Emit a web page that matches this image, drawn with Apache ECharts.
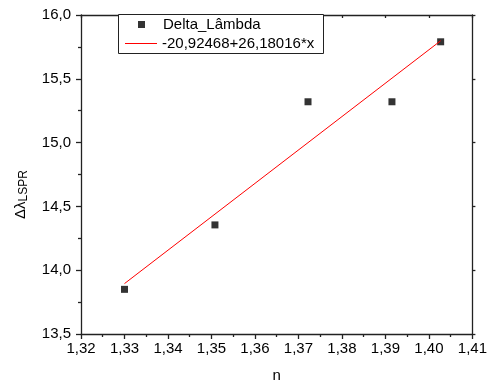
<!DOCTYPE html>
<html>
<head>
<meta charset="utf-8">
<style>html,body{margin:0;padding:0;background:#fff}#c{width:490px;height:388px}</style>
<script src="https://cdn.jsdelivr.net/npm/echarts@6/dist/echarts.min.js"></script>
</head>
<body>
<div id="c"></div>
<script>
var nValues = [1.3300, 1.3508, 1.3722, 1.3915, 1.4027];
var deltaLambda = [13.85, 14.355, 15.32, 15.32, 15.79];
var fitX = [1.3300, 1.4027];
var fitY = [13.895, 15.798];
var xTicks = {min: 1.32, max: 1.41, step: 0.01};
var yTicks = {min: 13.5, max: 16.0, step: 0.5};
var seriesNames = ['Delta_Lâmbda', '-20,92468+26,18016*x'];

var FONT = 'Liberation Sans, Arial, sans-serif';
var chart = echarts.init(document.getElementById('c'));
var axisLine = {show: true, lineStyle: {color: '#222', width: 1.3}};
function fmtX(v){ return v.toFixed(2).replace('.', ','); }
function fmtY(v){ return v.toFixed(1).replace('.', ','); }

chart.setOption({
  backgroundColor: '#fff',
  animation: false,
  grid: {left: 78, right: 17, top: 15, bottom: 54, containLabel: false},
  graphic: [{
    type: 'rect', left: 118, top: 14, z: 10,
    shape: {width: 205, height: 39},
    style: {fill: '#fff', stroke: '#222', lineWidth: 1}
  }],
  legend: [{
    data: [{name: seriesNames[0], icon: 'rect'}],
    left: 138, top: 17, padding: 0, itemWidth: 7, itemHeight: 7, z: 11,
    formatter: '{a|{name}}',
    textStyle: {color: '#000', fontFamily: FONT, fontSize: 15,
      rich: {a: {fontFamily: FONT, fontSize: 15, color: '#000', padding: [0, 0, 0, 13]}}},
    selectedMode: false
  }, {
    data: [{name: seriesNames[1], icon: 'rect'}],
    left: 125, top: 36, padding: 0, itemWidth: 32, itemHeight: 1, z: 11,
    textStyle: {color: '#000', fontFamily: FONT, fontSize: 15},
    selectedMode: false
  }],
  xAxis: [{
    type: 'value', position: 'bottom',
    min: xTicks.min, max: xTicks.max, interval: xTicks.step,
    name: 'n', nameLocation: 'middle', nameGap: 34,
    nameTextStyle: {color: '#000', fontFamily: FONT, fontSize: 15},
    axisLine: axisLine,
    axisTick: {show: true, inside: false, length: 5, lineStyle: {color: '#222', width: 1.3}},
    minorTick: {show: true, splitNumber: 2, length: 3, lineStyle: {color: '#222', width: 1.3}},
    axisLabel: {color: '#000', fontFamily: FONT, fontSize: 15, margin: 7, formatter: fmtX},
    splitLine: {show: false}
  }, {
    type: 'value', position: 'top',
    min: xTicks.min, max: xTicks.max, interval: xTicks.step,
    axisLine: axisLine,
    axisTick: {show: true, inside: true, length: 3, lineStyle: {color: '#222', width: 1.3}},
    axisLabel: {show: false}, splitLine: {show: false}
  }],
  yAxis: [{
    type: 'value', position: 'left',
    min: yTicks.min, max: yTicks.max, interval: yTicks.step,
    name: '{a|Δλ}{b|LSPR}', nameLocation: 'middle', nameGap: 51,
    nameTextStyle: {color: '#000', fontFamily: FONT,
      rich: {a: {fontSize: 15, fontFamily: FONT, color: '#000', lineHeight: 18},
             b: {fontSize: 12, fontFamily: FONT, color: '#000', lineHeight: 12, verticalAlign: 'bottom', padding: [10, 40, 0, 0]}}},
    axisLine: axisLine,
    axisTick: {show: true, inside: false, length: 5, lineStyle: {color: '#222', width: 1.3}},
    minorTick: {show: true, splitNumber: 2, length: 3, lineStyle: {color: '#222', width: 1.3}},
    axisLabel: {color: '#000', fontFamily: FONT, fontSize: 15, margin: 10, formatter: fmtY},
    splitLine: {show: false}
  }, {
    type: 'value', position: 'right',
    min: yTicks.min, max: yTicks.max, interval: yTicks.step,
    axisLine: axisLine,
    axisTick: {show: true, inside: false, length: 3, lineStyle: {color: '#222', width: 1.3}},
    axisLabel: {show: false}, splitLine: {show: false}
  }],
  series: [{
    name: seriesNames[0], type: 'scatter',
    xAxisIndex: 0, yAxisIndex: 0,
    symbol: 'rect', symbolSize: 7,
    itemStyle: {color: '#000'},
    data: nValues.map(function(x, i){ return [x, deltaLambda[i]]; })
  }, {
    name: seriesNames[1], type: 'line',
    xAxisIndex: 0, yAxisIndex: 0,
    showSymbol: false, symbol: 'none',
    lineStyle: {color: '#ff0000', width: 1},
    itemStyle: {color: '#ff0000'},
    data: fitX.map(function(x, i){ return [x, fitY[i]]; })
  }]
});
</script>
</body>
</html>
